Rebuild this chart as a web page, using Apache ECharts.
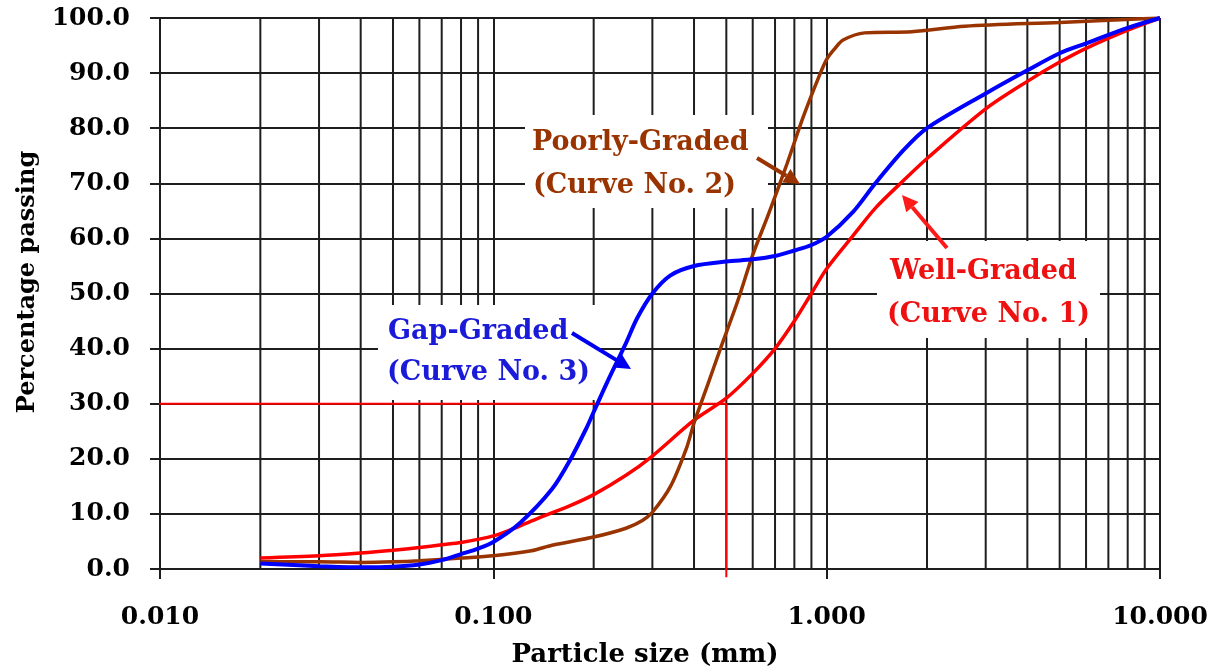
<!DOCTYPE html>
<html>
<head>
<meta charset="utf-8">
<script src="https://cdn.jsdelivr.net/npm/echarts@6/dist/echarts.min.js"></script>
<style>
html,body{margin:0;padding:0;background:#fff;}
#c{width:1225px;height:668px;}
</style>
</head>
<body>
<div id="c"></div>
<script>
// ---- data ----
const xTickLabels = [0.01, 0.1, 1, 10];
const yTickLabels = [0,10,20,30,40,50,60,70,80,90,100];
const minorSizes = [0.02,0.03,0.04,0.05,0.06,0.07,0.08,0.09,0.2,0.3,0.4,0.5,0.6,0.7,0.8,0.9,2,3,4,5,6,7,8,9];

const wellSize = [0.02,0.03,0.04,0.05,0.06,0.07,0.08,0.1,0.12,0.14,0.17,0.2,0.25,0.3,0.4,0.5,0.6,0.7,0.8,0.9,1.0,1.2,1.4,1.7,2.0,3,4,5,6,8,10];
const wellPass = [2.0,2.4,2.9,3.4,3.9,4.4,4.8,6.0,7.8,9.5,11.5,13.5,17,20.5,27,31,35.5,40,45,50,54.5,60.5,65.5,70.5,74.5,83.5,88.5,92,94.5,97.8,100];

const poorSize = [0.02,0.03,0.04,0.05,0.06,0.08,0.1,0.13,0.15,0.2,0.25,0.28,0.3,0.34,0.38,0.4,0.44,0.48,0.54,0.6,0.67,0.76,0.85,0.95,1.0,1.06,1.12,1.3,1.8,2.6,5,10];
const poorPass = [1.3,1.3,1.2,1.3,1.5,2.0,2.4,3.3,4.3,5.8,7.4,8.8,10.3,15,22,26.5,33.5,40,48.5,57,64.5,73.5,82,89.5,92.5,94.5,96,97.3,97.5,98.5,99.2,100];

const gapSize = [0.02,0.03,0.04,0.05,0.06,0.07,0.08,0.09,0.1,0.12,0.15,0.17,0.19,0.2,0.22,0.25,0.27,0.3,0.34,0.4,0.5,0.6,0.7,0.8,0.9,1.0,1.2,1.4,1.7,2,3,4,5,6,8,10];
const gapPass = [1.0,0.5,0.3,0.4,0.8,1.6,2.7,3.7,4.9,8.3,14.5,19.8,25.5,28.5,34,41,45.5,50,53.3,55,55.8,56.2,56.8,57.8,58.8,60.3,64.8,70,76,80,86.3,90.5,93.6,95.4,98.2,100];

// D30 construction line (size, percent)
const d30Size = [0.00933, 0.5, 0.5];
const d30Pass = [30, 30, -1.5];

// ---- chart ----
const FONT = '"DejaVu Serif", "Liberation Serif", serif';
const GRID = '#1e1e1e';
const pair = (xs, ys) => xs.map((x, i) => [x, ys[i]]);

const chart = echarts.init(document.getElementById('c'), null, {renderer: 'canvas'});

function arrow(x1, y1, x2, y2, color) {
  const ang = Math.atan2(y2 - y1, x2 - x1);
  const L = 16, W = 8;
  const bx = x2 - L * Math.cos(ang), by = y2 - L * Math.sin(ang);
  const px = -Math.sin(ang), py = Math.cos(ang);
  return [
    {type: 'line', z: 10, shape: {x1: x1, y1: y1, x2: bx, y2: by}, style: {stroke: color, lineWidth: 4}},
    {type: 'polygon', z: 10, shape: {points: [[x2, y2], [bx + px * W, by + py * W], [bx - px * W, by - py * W]]}, style: {fill: color}}
  ];
}
function label(x, y, text, color) {
  return {type: 'text', z: 11, x: x, y: y,
    style: {text: text, fill: color, font: 'bold 27px ' + FONT, textAlign: 'left', textVerticalAlign: 'middle', align: 'left', verticalAlign: 'middle'}};
}

const option = {
  backgroundColor: '#ffffff',
  animation: false,
  grid: {left: 160, right: 65, top: 18, bottom: 99, containLabel: false},
  xAxis: {
    type: 'log', logBase: 10, min: 0.01, max: 10, z: 0,
    axisLine: {show: true, onZero: false, lineStyle: {color: GRID, width: 2}},
    axisTick: {show: true, length: 10, lineStyle: {color: GRID, width: 2}},
    splitLine: {show: true, lineStyle: {color: GRID, width: 2}},
    minorTick: {show: false}, minorSplitLine: {show: false},
    axisLabel: {margin: 36, color: '#000', fontFamily: FONT, fontWeight: 'bold', fontSize: 25,
      formatter: v => { const t = xTickLabels.find(k => Math.abs(Math.log10(k) - Math.log10(v)) < 1e-6); return t !== undefined ? t.toFixed(3) : ''; }}
  },
  yAxis: {
    type: 'value', min: 0, max: 100, interval: 10, z: 0,
    axisLine: {show: true, lineStyle: {color: GRID, width: 2}},
    axisTick: {show: true, length: 10, lineStyle: {color: GRID, width: 2}},
    splitLine: {show: true, lineStyle: {color: GRID, width: 2}},
    axisLabel: {margin: 30, color: '#000', fontFamily: FONT, fontWeight: 'bold', fontSize: 25,
      formatter: v => yTickLabels.indexOf(v) >= 0 ? v.toFixed(1) : ''}
  },
  graphic: [
    {type: 'rect', z: 1, shape: {x: 525, y: 115, width: 243, height: 93}, style: {fill: '#fff'}},
    {type: 'rect', z: 1, shape: {x: 378, y: 305, width: 219, height: 95}, style: {fill: '#fff'}},
    {type: 'rect', z: 1, shape: {x: 877, y: 241, width: 223, height: 97}, style: {fill: '#fff'}},
    label(532, 143, 'Poorly-Graded', '#993300'),
    label(533, 186, '(Curve No. 2)', '#993300'),
    label(388, 332, 'Gap-Graded', '#1a1ad9'),
    label(387, 373, '(Curve No. 3)', '#1a1ad9'),
    label(890, 272, 'Well-Graded', '#ee1111'),
    label(887, 315, '(Curve No. 1)', '#ee1111'),
    ...arrow(757, 158, 800, 184, '#993300'),
    ...arrow(572, 333, 631, 369, '#0000ee'),
    ...arrow(947, 248, 902, 195, '#ff1a1a'),
    {type: 'text', z: 11, x: 645, y: 655,
      style: {text: 'Particle size (mm)', fill: '#000', font: 'bold 26px ' + FONT, textAlign: 'center', textVerticalAlign: 'middle', align: 'center', verticalAlign: 'middle'}},
    {type: 'text', z: 11, x: 28, y: 282, rotation: Math.PI / 2,
      style: {text: 'Percentage passing', fill: '#000', font: 'bold 24px ' + FONT, textAlign: 'center', textVerticalAlign: 'middle', align: 'center', verticalAlign: 'middle'}}
  ],
  series: [
    {
      type: 'custom', z: 0, silent: true,
      data: minorSizes.map(v => [v]),
      renderItem: function (params, api) {
        const v = api.value(0);
        const p1 = api.coord([v, 0]);
        const p2 = api.coord([v, 100]);
        return {type: 'line', shape: {x1: p1[0], y1: p1[1], x2: p2[0], y2: p2[1]}, style: {stroke: GRID, lineWidth: 2}};
      }
    },
    {type: 'line', name: 'D30', z: 3, clip: false, symbol: 'none', data: pair(d30Size, d30Pass),
      lineStyle: {color: '#ff0000', width: 2}},
    {type: 'line', name: 'Well-Graded', z: 4, symbol: 'none', smooth: 0.3, data: pair(wellSize, wellPass),
      lineStyle: {color: '#ff0000', width: 3.5}},
    {type: 'line', name: 'Poorly-Graded', z: 4, symbol: 'none', smooth: 0.3, data: pair(poorSize, poorPass),
      lineStyle: {color: '#993300', width: 3.5}},
    {type: 'line', name: 'Gap-Graded', z: 5, symbol: 'none', smooth: 0.3, data: pair(gapSize, gapPass),
      lineStyle: {color: '#0000ff', width: 4}}
  ]
};
chart.setOption(option);
</script>
</body>
</html>
